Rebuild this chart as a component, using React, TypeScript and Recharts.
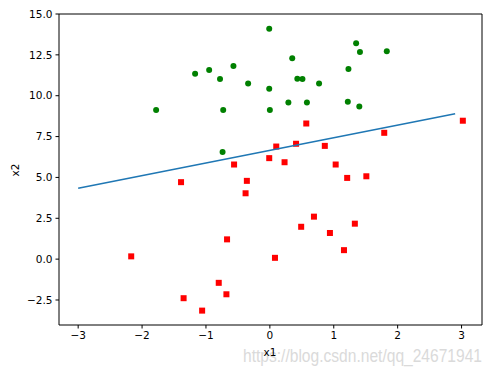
import React from 'react';
import { ScatterChart, Scatter, XAxis, YAxis, ReferenceLine } from 'recharts';

// class 1 (green circles)
const greenX = [-1.78, -1.17, -0.95, -0.57, -0.78, -0.34, -0.01, -0.01, -0.73, 0.0, -0.74, 1.35, 1.41, 1.83, 0.35, 1.23, 0.43, 0.51, 0.77, 0.29, 0.58, 1.22, 1.40];
const greenY = [9.12, 11.35, 11.58, 11.82, 11.02, 10.74, 14.09, 10.43, 9.12, 9.12, 6.55, 13.21, 12.68, 12.72, 12.29, 11.64, 11.04, 11.02, 10.74, 9.59, 9.59, 9.63, 9.34];

// class 0 (red squares)
const redX = [0.57, 3.02, 1.79, 0.10, 0.41, 0.86, -0.01, 0.23, 1.03, -0.56, -1.39, -0.36, -0.38, 1.21, 1.51, -0.67, -2.17, 0.08, -0.80, -1.35, -0.68, -1.06, 0.69, 0.49, 1.33, 0.94, 1.16];
const redY = [8.30, 8.47, 7.73, 6.89, 7.06, 6.93, 6.18, 5.93, 5.79, 5.79, 4.71, 4.79, 4.03, 4.97, 5.07, 1.21, 0.17, 0.08, -1.45, -2.39, -2.15, -3.15, 2.60, 1.98, 2.17, 1.60, 0.55];

// decision boundary
const lineX = [-3.0, 2.9];
const lineY = [4.34, 8.9];

const xTicks = [-3, -2, -1, 0, 1, 2, 3];
const yTicks = [-2.5, 0, 2.5, 5, 7.5, 10, 12.5, 15];

const green = greenX.map((x, i) => ({ x, y: greenY[i] }));
const red = redX.map((x, i) => ({ x, y: redY[i] }));
const line = lineX.map((x, i) => ({ x, y: lineY[i] }));

const font = 'DejaVu Sans, sans-serif';
const fmt = (v: number, d: number) => v.toFixed(d).replace('-', '\u2212');

const Dot = (props: any) => <circle cx={props.cx} cy={props.cy} r={3} fill="green" />;
const Square = (props: any) => <rect x={props.cx - 3} y={props.cy - 3} width={6} height={6} fill="red" />;
const NoShape = () => <g />;

export default function App() {
    return (
        <div style={{ position: 'absolute', left: 0, top: 0, width: 493, height: 370, background: '#fff' }}>
            <ScatterChart width={493} height={370} margin={{ top: 14, right: 11, bottom: 0, left: 0 }}>
                <XAxis
                    type="number"
                    dataKey="x"
                    domain={[-3.3, 3.32]}
                    ticks={xTicks}
                    allowDataOverflow
                    height={45}
                    stroke="#000"
                    tickSize={3.5}
                    tickMargin={3}
                    tick={{ fill: '#000', fontSize: 10.5, fontFamily: font }}
                    tickFormatter={(v) => fmt(v, 0)}
                />
                <YAxis
                    type="number"
                    dataKey="y"
                    domain={[-4.03, 15]}
                    ticks={yTicks}
                    allowDataOverflow
                    width={59}
                    stroke="#000"
                    tickSize={3.5}
                    tickMargin={3}
                    tick={{ fill: '#000', fontSize: 10.5, fontFamily: font }}
                    tickFormatter={(v) => fmt(v, 1)}
                />
                <ReferenceLine y={15} stroke="#000" />
                <ReferenceLine x={3.32} stroke="#000" />
                <Scatter data={green} shape={Dot} isAnimationActive={false} />
                <Scatter data={red} shape={Square} isAnimationActive={false} />
                <Scatter data={line} shape={NoShape} line={{ stroke: '#1f77b4', strokeWidth: 1.5 }} isAnimationActive={false} />
            </ScatterChart>
            <svg width={493} height={370} style={{ position: 'absolute', left: 0, top: 0, pointerEvents: 'none' }}>
                <text
                    x={243}
                    y={362}
                    textLength={239}
                    lengthAdjust="spacingAndGlyphs"
                    fontFamily="Liberation Sans, Arial, sans-serif"
                    fontSize={18.5}
                    fill="#dadada"
                >
                    https://blog.csdn.net/qq_24671941
                </text>
            </svg>
            <div style={{ position: 'absolute', left: 250, top: 345, width: 40, textAlign: 'center', fontFamily: font, fontSize: 10.5, lineHeight: '14px' }}>x1</div>
            <div style={{ position: 'absolute', left: -5, top: 163, width: 40, textAlign: 'center', fontFamily: font, fontSize: 10.5, lineHeight: '14px', transform: 'rotate(-90deg)' }}>x2</div>
        </div>
    );
}
